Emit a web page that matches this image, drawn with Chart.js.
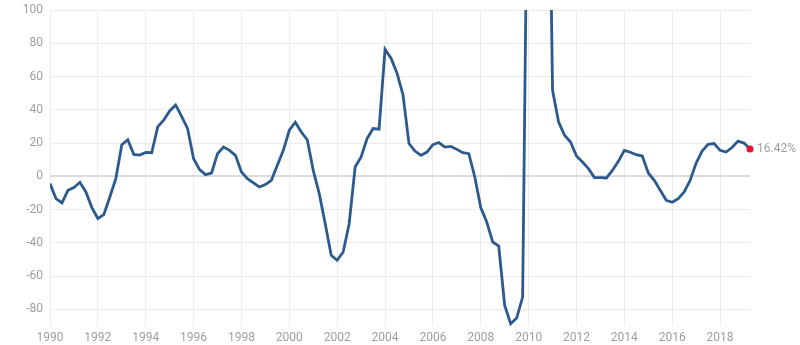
<!DOCTYPE html>
<html>
<head>
<meta charset="utf-8">
<script src="https://cdn.jsdelivr.net/npm/chart.js@4/dist/chart.umd.min.js"></script>
<style>
  html, body { margin: 0; padding: 0; background: #fff; }
  #wrap { width: 800px; height: 345px; position: relative; }
</style>
</head>
<body>
<div id="wrap"><canvas id="growthChart"></canvas></div>
<script>
// Quarterly series, starting 1990 Q1
const startYear = 1990;
const values = [
  -4.4, -13.4, -16, -8.4,      // 1990
  -6.8, -3.6, -9.4, -18.8,     // 1991
  -25.3, -23, -12.4, -1.4,     // 1992
  19, 22, 13.2, 12.8,          // 1993
  14.4, 14.2, 29.7, 33.7,      // 1994
  39.3, 42.9, 36.1, 28.7,      // 1995
  10.6, 4, 1, 2,               // 1996
  13.6, 17.6, 15.6, 12.6,      // 1997
  2.6, -1.4, -4, -6.4,         // 1998
  -5, -2.4, 6.6, 15.6,         // 1999
  27.7, 32.5, 26.6, 22,        // 2000
  3.6, -10.4, -28.5, -47.5,    // 2001
  -50.5, -45.5, -28.5, 5.6,    // 2002
  11.6, 22.7, 28.7, 28.3,      // 2003
  76.3, 71, 62, 49,            // 2004
  19.7, 15.2, 12.6, 14.6,      // 2005
  19, 20.3, 17.6, 18,          // 2006
  16.2, 14.2, 13.6, -0.4,      // 2007
  -18.8, -27.5, -39.5, -41.9,  // 2008
  -77.6, -88.6, -85.2, -72.6,  // 2009
  257, 330, 340, 300,          // 2010 (off the chart)
  51.7, 32.7, 24.7, 20.6,      // 2011
  12.2, 8.6, 4.6, -0.8,        // 2012
  -0.8, -1, 3.5, 9,            // 2013
  15.6, 14.5, 13, 12.2,        // 2014
  2, -2.4, -8.4, -14.4,        // 2015
  -15.6, -13.4, -9.4, -2.4,    // 2016
  8, 15.2, 19.2, 19.7,         // 2017
  15.6, 14.6, 17.3, 21.2,      // 2018
  20, 16.42                    // 2019
];
const yearTicks = [1990, 1992, 1994, 1996, 1998, 2000, 2002, 2004, 2006, 2008, 2010, 2012, 2014, 2016, 2018];
const valueTicks = [-80, -60, -40, -20, 0, 20, 40, 60, 80, 100];

const points = values.map((v, i) => ({ x: startYear + i / 4, y: v }));
const lastX = points[points.length - 1].x;
const lastIndex = values.length - 1;

// Draws the last value next to the red end dot
const lastLabel = {
  id: 'lastLabel',
  afterDatasetsDraw(chart) {
    const el = chart.getDatasetMeta(0).data[lastIndex];
    const c = chart.ctx;
    c.save();
    c.font = '12px Roboto';
    c.fillStyle = '#9e9e9e';
    c.textBaseline = 'middle';
    c.textAlign = 'left';
    c.fillText(values[lastIndex].toFixed(2) + '%', el.x + 7, el.y);
    c.restore();
  }
};

const ctx = document.getElementById('growthChart').getContext('2d');
new Chart(ctx, {
  type: 'line',
  data: {
    datasets: [{
      data: points,
      borderColor: '#2d5a8e',
      borderWidth: 2.8,
      tension: 0,
      clip: { left: 0, top: 0, right: 8, bottom: 0 },
      pointRadius: points.map((p, i) => i === lastIndex ? 3.5 : 0),
      pointBackgroundColor: '#e8102c',
      pointBorderWidth: 0
    }]
  },
  options: {
    responsive: true,
    maintainAspectRatio: false,
    animation: false,
    layout: { padding: { top: 10, right: 50, left: 0, bottom: 0 } },
    plugins: {
      legend: { display: false },
      tooltip: { enabled: false }
    },
    scales: {
      x: {
        type: 'linear',
        min: startYear,
        max: lastX,
        afterBuildTicks: (scale) => {
          scale.ticks = yearTicks.map(v => ({ value: v }));
        },
        afterFit: (scale) => { scale.height = 19; },
        border: { display: false },
        grid: { color: '#ececec', lineWidth: 1, drawTicks: false },
        ticks: {
          color: '#9e9e9e',
          font: { family: 'Roboto', size: 12 },
          padding: 5,
          maxRotation: 0,
          autoSkip: false,
          callback: (v) => String(v)
        }
      },
      y: {
        min: -90,
        max: 100,
        afterBuildTicks: (scale) => {
          scale.ticks = valueTicks.map(v => ({ value: v }));
        },
        afterFit: (scale) => {
          scale.width = 50;
          scale.paddingTop = 0;
          scale.paddingBottom = 0;
        },
        border: { display: false },
        grid: {
          color: (c) => c.tick && c.tick.value === 0 ? '#dcdcdc' : '#ececec',
          lineWidth: (c) => c.tick && c.tick.value === 0 ? 2 : 1,
          drawTicks: false
        },
        ticks: {
          color: '#9e9e9e',
          font: { family: 'Roboto', size: 12 },
          padding: 7
        }
      }
    }
  },
  plugins: [lastLabel]
});
</script>
</body>
</html>
